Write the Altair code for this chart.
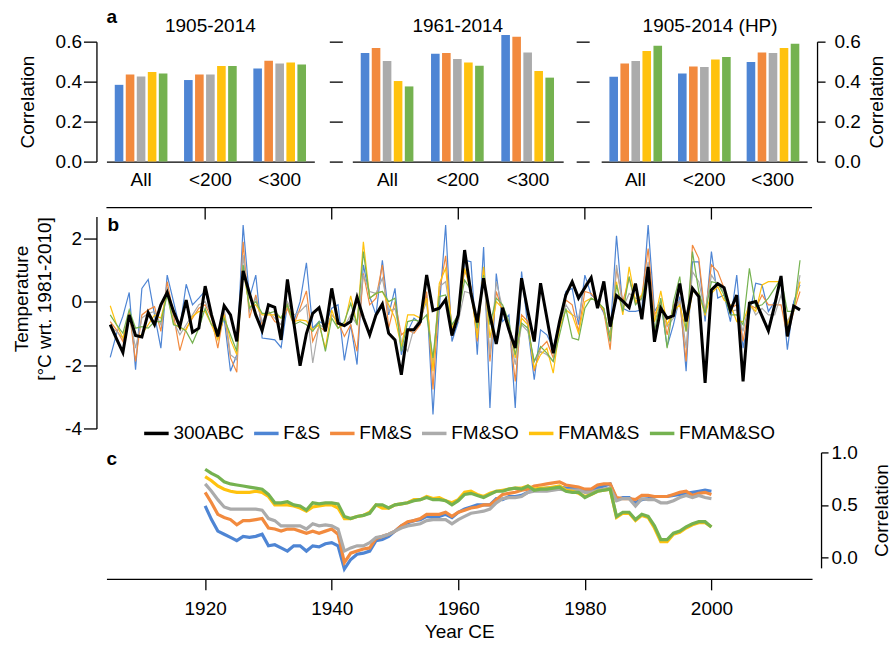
import altair as alt
import pandas as pd

FONT = "Liberation Sans"
GROUPS = ["All", "<200", "<300"]
SERIES = ["F&S", "FM&S", "FM&SO", "FMAM&S", "FMAM&SO"]
COLORS = ["#4E85D4", "#F28A3E", "#ABABAB", "#FFC20E", "#75B250"]
ALL_SERIES = ["300ABC"] + SERIES
ALL_COLORS = ["#000000"] + COLORS

# ---- panel a : correlations (rows = All, <200, <300 ; cols = series)
BARS_1905_2014 = [[0.384, 0.436, 0.426, 0.448, 0.441],
                  [0.408, 0.436, 0.436, 0.478, 0.478],
                  [0.466, 0.505, 0.491, 0.496, 0.486]]
BARS_1961_2014 = [[0.543, 0.568, 0.503, 0.403, 0.376],
                  [0.540, 0.543, 0.513, 0.496, 0.480],
                  [0.633, 0.625, 0.546, 0.453, 0.420]]
BARS_1905_2014_HP = [[0.425, 0.491, 0.503, 0.553, 0.580],
                     [0.441, 0.476, 0.473, 0.511, 0.523],
                     [0.498, 0.546, 0.543, 0.568, 0.590]]

# ---- panel b : temperature 1905-2014
YEARS_B = list(range(1905, 2015))
ABC300 = [-0.72, -1.17, -1.60, -0.41, -1.06,
          -1.11, -0.34, -0.72, -0.09, 0.30, -0.30, -0.78, 0.06, -0.96, -0.83,
          0.50, -0.41, -1.09, -0.12, -0.41, -1.25, 0.98, 0.27, -0.41, -0.91,
          -0.09, -0.17, -1.20, 0.71, -0.65, -2.02, -1.00, -0.36, -0.18, -0.93,
          0.43, -0.67, -0.75, -0.62, 0.15, -0.50, -1.04, -0.41, -0.07, -0.99,
          -1.20, -2.30, -0.88, -0.88, -0.62, 0.85, -0.27, -0.20, 0.08, -1.06,
          -0.41, 1.64, 0.27, -0.65, 0.75, -0.41, -1.33, -0.18, -0.88, -1.46,
          0.75, -0.30, -1.25, 0.59, -0.51, -1.62, -0.62, 0.22, 0.64, 0.12,
          0.45, 0.77, -0.20, 0.65, -0.78, 0.20, 0.03, -0.18, 0.58, -0.55,
          1.11, -1.26, -0.20, -0.51, -0.43, 0.58, -0.62, 0.43, 0.17, -2.56,
          0.38, 0.58, 0.45, -0.27, 0.22, -2.51, -0.04, 0.01, -0.45, -0.91,
          -0.10, 0.82, -1.09, -0.13, -0.25]
T_FS = [-1.75, -1.00, -0.45, 0.30, -2.14,
        0.43, 0.71, -0.41, -1.46, 0.85, 0.01, -0.83, 0.56, -0.09, 0.12,
        0.35, -0.41, -1.14, -0.51, -2.19, -1.67, 2.43, 0.12, 0.85, -1.14,
        -1.17, -1.20, -1.44, -0.09, -0.62, 0.01, 1.24, -0.83, -0.62, -0.72,
        -0.20, -0.09, -1.85, -0.72, -1.98, 1.17, 0.17, -0.41, 1.32, -0.41,
        0.43, -1.67, -0.93, -0.51, -0.67, 0.22, -3.56, -0.20, 2.43, -1.25,
        -0.62, 1.32, 1.27, -1.67, 1.74, -3.35, 0.90, -0.62, -0.41, -3.35,
        0.96, -0.83, -2.46, -0.88, -1.04, -1.46, -0.62, 0.33, 0.43, -0.72,
        0.85, 0.22, 0.05, -0.36, -1.04, 2.09, -0.20, -0.30, -0.30, -0.25,
        2.43, -0.30, 0.01, -1.41, -0.72, 0.17, -2.19, 1.27, 1.27, -0.62,
        1.59, 0.12, 0.22, -0.62, 0.85, -1.46, -0.41, 0.59, 0.54, -0.30,
        0.01, 0.64, -1.51, 0.01, 0.54]
T_FMS = [-0.62, -0.88, -1.25, -0.30, -1.88,
         -0.41, -0.25, -0.15, -0.93, 0.64, -0.41, -1.54, -0.83, -0.51, -0.20,
         -0.09, -0.51, -1.46, -0.30, -1.77, -2.22, 1.90, -0.51, 0.22, -0.72,
         -0.30, -0.62, -0.72, -0.20, -0.72, -0.20, 0.35, -1.25, -0.78, -0.93,
         -0.41, -0.62, -1.09, -0.72, -1.56, 0.90, -0.09, 0.12, 1.17, -0.83,
         0.01, -1.04, -0.88, -0.99, -0.72, 0.33, -2.77, 0.30, 1.46, -0.93,
         -0.41, 1.01, 0.48, -1.25, 1.06, -1.88, 0.33, -0.30, -0.72, -2.51,
         -0.41, -0.62, -2.19, -1.46, -1.25, -1.77, -0.72, 0.06, -0.09, -0.93,
         0.33, 0.27, 0.00, -0.30, -1.51, 1.06, 0.01, 0.75, -0.04, 0.17,
         1.69, -0.41, -0.04, -1.04, -0.09, 0.01, -1.88, 1.80, 1.38, -0.41,
         1.17, 0.96, 0.43, -0.20, -0.09, -1.25, -0.09, -0.20, 0.22, -0.09,
         -0.09, -0.09, -1.09, -0.30, 0.33]
T_FMSO = [-0.78, -0.93, -1.14, -0.41, -1.46,
          -0.51, -0.36, -0.30, -0.72, 0.48, -0.62, -1.04, -0.72, -0.41, -0.09,
          0.01, -0.41, -1.04, -0.20, -1.67, -1.83, 1.48, -0.30, 0.12, -0.62,
          -0.30, -0.51, -0.72, 0.01, -0.41, -0.30, -0.09, -1.93, -0.72, -0.83,
          -0.41, -0.62, -0.78, -0.41, -0.72, 0.85, 0.33, 0.27, 0.75, -0.30,
          -0.20, -1.25, -1.56, -0.83, -0.51, 0.01, -1.98, 0.48, 0.64, -0.72,
          -0.62, 0.33, 0.27, -0.93, 0.90, -1.67, 0.64, -0.20, -0.93, -1.98,
          -0.72, -0.93, -1.88, -1.56, -1.67, -1.88, -0.72, -0.09, -0.41, -0.51,
          0.54, 0.80, -0.05, -0.20, -1.25, 1.17, -0.20, 0.27, 0.12, 0.06,
          1.27, -0.62, -0.09, -0.78, -0.51, 0.06, -1.46, 0.96, 0.64, -0.30,
          0.85, 0.54, 0.33, -0.30, -0.25, -0.93, 0.01, -0.41, -0.20, -0.41,
          -0.41, 0.22, -0.62, -0.20, 0.85]
T_FMAMS = [-0.12, -0.72, -1.14, -0.51, -1.09,
           -1.04, -0.72, -0.41, -0.51, 0.27, -0.67, -0.83, -0.88, -0.46, -0.30,
           -0.30, -0.72, -1.20, -0.41, -1.20, -1.67, 1.01, -0.15, -0.09, -0.41,
           -0.41, -0.41, -0.51, -0.09, -0.62, -0.57, -0.60, -0.88, -0.72, -1.46,
           -0.25, -0.83, -0.72, 0.19, -0.72, 1.90, 0.12, 0.27, 0.33, -0.09,
           -0.51, -1.41, -0.41, -0.41, -0.51, 0.12, -2.19, 0.59, 1.06, -0.83,
           -0.41, 1.06, 0.33, -1.14, 1.11, -1.14, 0.01, -0.20, -0.72, -1.77,
           -0.51, -0.72, -2.09, -1.67, -1.46, -2.25, -0.83, -0.25, -0.41, -0.99,
           0.01, 0.12, 0.02, -0.25, -1.14, 0.64, -0.41, 1.11, 0.01, 0.22,
           0.85, -0.62, 0.35, -0.72, -0.30, -0.09, -0.93, 0.33, 0.27, -0.41,
           0.27, 0.48, 0.06, -0.09, -0.62, -0.62, -0.09, -0.30, 0.54, 0.64,
           0.64, 0.64, -0.72, -0.20, 0.64]
T_FMAMSO = [-0.41, -0.72, -0.99, -0.25, -0.83,
            -0.78, -0.83, -0.62, -0.62, 0.22, -0.72, -0.78, -0.93, -1.30, -0.83,
            -0.20, -0.72, -0.88, -0.51, -1.04, -1.56, 1.17, -0.20, 0.01, -0.36,
            -0.36, -0.30, -0.51, -0.09, -0.72, -0.62, -0.72, -0.93, -0.62, -1.56,
            -0.51, -0.83, -0.62, -0.04, -0.72, 1.59, 0.12, 0.27, 0.33, 0.01,
            0.12, -1.56, -0.62, -0.57, -0.62, -0.41, -1.77, 0.17, 0.22, -0.72,
            -0.41, 0.69, 0.38, -0.83, 0.85, -0.72, 0.12, -0.09, -0.62, -1.67,
            -0.67, -0.83, -1.88, -1.41, -1.62, -1.88, -1.04, -0.20, -1.14, -1.20,
            -0.20, 0.12, 0.01, -0.20, -1.25, 0.54, -0.30, 0.80, -0.09, 0.12,
            0.96, -0.93, 0.12, -1.46, 0.01, 0.80, -0.93, 1.59, 0.33, -0.36,
            0.64, 0.59, 0.22, -0.41, -0.41, -0.72, 1.06, -0.15, -0.09, 0.12,
            0.43, 0.75, -0.30, -0.30, 1.32]

# ---- panel c : running correlation 1920-2000
YEARS_C = list(range(1920, 2001))
C_FS = [0.49, 0.36, 0.25, 0.22, 0.19, 0.16, 0.20, 0.19, 0.20, 0.22,
        0.11, 0.12, 0.09, 0.06, 0.11, 0.11, 0.06, 0.11, 0.10, 0.13,
        0.14, 0.11, -0.11, -0.02, 0.03, 0.04, 0.06, 0.16, 0.17, 0.20,
        0.25, 0.30, 0.33, 0.35, 0.36, 0.39, 0.38, 0.39, 0.41, 0.38,
        0.43, 0.46, 0.48, 0.50, 0.50, 0.50, 0.56,
        0.55, 0.58, 0.58, 0.59, 0.62, 0.64, 0.65, 0.66, 0.66, 0.67,
        0.66, 0.66, 0.65, 0.63, 0.64, 0.66, 0.68, 0.70, 0.55, 0.57,
        0.57, 0.52, 0.55, 0.56, 0.58, 0.58, 0.58, 0.59, 0.60, 0.61,
        0.62, 0.63, 0.64, 0.63]
C_FMS = [0.62, 0.52, 0.41, 0.38, 0.36, 0.31, 0.35, 0.35, 0.36, 0.37,
         0.28, 0.27, 0.25, 0.27, 0.27, 0.25, 0.23, 0.25, 0.23, 0.25,
         0.27, 0.22, -0.05, 0.04, 0.06, 0.08, 0.09, 0.18, 0.20, 0.22,
         0.25, 0.30, 0.34, 0.35, 0.37, 0.41, 0.41, 0.41, 0.43, 0.39,
         0.43, 0.45, 0.47, 0.48, 0.50, 0.50, 0.55,
         0.60, 0.61, 0.62, 0.64, 0.65, 0.68, 0.69, 0.70, 0.71, 0.72,
         0.69, 0.68, 0.67, 0.65, 0.65, 0.69, 0.70, 0.70, 0.57, 0.56,
         0.56, 0.55, 0.59, 0.59, 0.58, 0.58, 0.58, 0.60, 0.62, 0.63,
         0.59, 0.61, 0.62, 0.60]
C_FMSO = [0.70, 0.63, 0.55, 0.48, 0.46, 0.46, 0.46, 0.46, 0.46, 0.45,
          0.37, 0.35, 0.30, 0.30, 0.30, 0.30, 0.27, 0.32, 0.30, 0.31,
          0.30, 0.27, 0.06, 0.09, 0.11, 0.11, 0.14, 0.19, 0.20, 0.22,
          0.25, 0.28, 0.30, 0.31, 0.32, 0.35, 0.36, 0.36, 0.36, 0.32,
          0.36, 0.39, 0.42, 0.43, 0.44, 0.46, 0.52,
          0.56, 0.57, 0.57, 0.58, 0.62, 0.63, 0.63, 0.63, 0.64, 0.65,
          0.64, 0.64, 0.64, 0.62, 0.62, 0.64, 0.65, 0.66, 0.54, 0.56,
          0.56, 0.49, 0.56, 0.55, 0.55, 0.52, 0.52, 0.54, 0.57, 0.59,
          0.57, 0.59, 0.57, 0.56]
C_FMAMS = [0.77, 0.73, 0.68, 0.65, 0.63, 0.62, 0.62, 0.62, 0.63, 0.62,
           0.58, 0.50, 0.50, 0.50, 0.49, 0.47, 0.44, 0.48, 0.49, 0.50,
           0.50, 0.47, 0.37, 0.37, 0.39, 0.40, 0.43, 0.50, 0.47, 0.47,
           0.50, 0.51, 0.52, 0.55, 0.55, 0.58, 0.56, 0.57, 0.54, 0.52,
           0.55, 0.62, 0.63, 0.60, 0.58, 0.61, 0.63,
           0.64, 0.65, 0.66, 0.66, 0.68, 0.65, 0.66, 0.66, 0.67, 0.68,
           0.64, 0.63, 0.61, 0.58, 0.60, 0.63, 0.64, 0.65, 0.38, 0.42,
           0.42, 0.35, 0.40, 0.38, 0.28, 0.15, 0.15, 0.22, 0.24, 0.28,
           0.31, 0.33, 0.33, 0.29]
C_FMAMSO = [0.84, 0.80, 0.77, 0.72, 0.70, 0.69, 0.68, 0.67, 0.66, 0.65,
            0.60, 0.52, 0.52, 0.53, 0.50, 0.49, 0.45, 0.52, 0.51, 0.52,
            0.52, 0.51, 0.39, 0.37, 0.39, 0.40, 0.42, 0.50, 0.50, 0.47,
            0.50, 0.51, 0.52, 0.54, 0.55, 0.57, 0.55, 0.55, 0.54, 0.50,
            0.54, 0.60, 0.61, 0.59, 0.57, 0.60, 0.63,
            0.63, 0.65, 0.66, 0.65, 0.68, 0.64, 0.65, 0.65, 0.66, 0.67,
            0.63, 0.62, 0.62, 0.57, 0.60, 0.63, 0.64, 0.65, 0.39, 0.43,
            0.43, 0.36, 0.41, 0.39, 0.30, 0.17, 0.17, 0.23, 0.25, 0.29,
            0.32, 0.34, 0.34, 0.29]

TICK_YEARS = [1920, 1940, 1960, 1980, 2000]

for name, arr, n in [("ABC300", ABC300, 110), ("T_FS", T_FS, 110), ("T_FMS", T_FMS, 110),
                     ("T_FMSO", T_FMSO, 110), ("T_FMAMS", T_FMAMS, 110), ("T_FMAMSO", T_FMAMSO, 110),
                     ("C_FS", C_FS, 81), ("C_FMS", C_FMS, 81), ("C_FMSO", C_FMSO, 81),
                     ("C_FMAMS", C_FMAMS, 81), ("C_FMAMSO", C_FMAMSO, 81)]:
    if len(arr) != n:
        raise ValueError(f"{name} has {len(arr)} values, expected {n}")

XDOM = [1904.4, 2015.9]
W_BC = 706


def label(text, x, y, size=19, bold=True, align="left"):
    return alt.Chart(pd.DataFrame({"t": [text]})).mark_text(
        font=FONT, fontSize=size, fontWeight="bold" if bold else "normal",
        align=align, baseline="alphabetic", color="black"
    ).encode(text="t:N", x=alt.value(x), y=alt.value(y))


def anchor(y1, y2):
    # invisible layout anchor (keeps rows aligned)
    return alt.Chart(pd.DataFrame({"k": [0]})).mark_rule(opacity=0, strokeWidth=1).encode(
        x=alt.value(-101), y=alt.value(y1), y2=alt.value(y2))


TICK_VALS = [0, 0.2, 0.4, 0.6]


def bar_panel(vals, title, width, left_axis, right_axis=None, tag=None, title_dx=0, extra=None):
    rows = []
    for gi, g in enumerate(GROUPS):
        for si, s in enumerate(SERIES):
            rows.append({"group": g, "series": s, "value": vals[gi][si]})
    df = pd.DataFrame(rows)
    yscale = alt.Scale(domain=[0, 0.6], nice=False, zero=True)
    xenc = alt.X("group:N", sort=GROUPS,
                 scale=alt.Scale(paddingInner=0.24, paddingOuter=0.12),
                 axis=alt.Axis(title=None, labelAngle=0, ticks=False, labelPadding=9))
    xoff = alt.XOffset("series:N", sort=SERIES, scale=alt.Scale(paddingInner=0.22))
    layers = [alt.Chart(df).mark_bar().encode(
        x=xenc, xOffset=xoff,
        y=alt.Y("value:Q", scale=yscale, axis=left_axis),
        color=alt.Color("series:N", scale=alt.Scale(domain=SERIES, range=COLORS), legend=None),
    )]
    if right_axis is not None:
        layers.append(alt.Chart(df).mark_bar(opacity=0).encode(
            x=xenc, xOffset=xoff,
            y=alt.Y("value:Q", scale=yscale, axis=right_axis)))
    layers.append(label(title, width / 2 + title_dx, -10, bold=False, align="center"))
    if tag:
        layers.append(label(tag, 0, -19))
    if extra is not None:
        layers.append(extra)
    ch = alt.layer(*layers).properties(width=width, height=120)
    if right_axis is not None:
        ch = ch.resolve_axis(y="independent")
    return ch


ax_left_full = alt.Axis(title="Correlation", values=TICK_VALS, format=".1f", offset=10,
                        tickSize=13, labelPadding=2, titlePadding=18)


def ax_ticks_only(off):
    return alt.Axis(title=None, values=TICK_VALS, labels=False, domain=False, offset=off, tickSize=13)


ax_right = alt.Axis(orient="right", title="Correlation", values=TICK_VALS, format=".1f", offset=10,
                    tickSize=8, labelPadding=9, titlePadding=7, titleAngle=270, titleBaseline="top")

pa1 = bar_panel(BARS_1905_2014, "1905-2014", 208, ax_left_full, tag="a", extra=anchor(-40, 155))
pa2 = bar_panel(BARS_1961_2014, "1961-2014", 211, ax_ticks_only(10))
pa3 = bar_panel(BARS_1905_2014_HP, "1905-2014 (HP)", 206, ax_ticks_only(12), ax_right, title_dx=6)

top = alt.hconcat(pa1, pa2, pa3, spacing=38, bounds="flush").resolve_scale(color="independent")

# ---- panel b
names_b = ["F&S", "FM&S", "FM&SO", "FMAM&S", "FMAM&SO"]
arrs_b = [T_FS, T_FMS, T_FMSO, T_FMAMS, T_FMAMSO]
rows = []
for nm, arr in zip(names_b, arrs_b):
    for yr, v in zip(YEARS_B, arr):
        rows.append({"year": yr, "temp": v, "series": nm})
dfb = pd.DataFrame(rows)
dfk = pd.DataFrame({"year": YEARS_B, "temp": ABC300, "series": ["300ABC"] * len(YEARS_B)})

xb = alt.X("year:Q", scale=alt.Scale(domain=XDOM, nice=False, zero=False), axis=None)
yb_axis = alt.Axis(title=["Temperature", "[°C wrt. 1981-2010]"], values=[-4, -2, 0, 2],
                   labelExpr="'' + datum.value", offset=10, tickSize=13, labelPadding=2,
                   titlePadding=10, titleY=82, titleLineHeight=23)
yb = alt.Y("temp:Q", scale=alt.Scale(domain=[-4, 2.7], nice=False, zero=False), axis=yb_axis)
legend_b = alt.Legend(orient="none", legendX=36, legendY=203, direction="horizontal", columns=6,
                      title=None, symbolType="stroke", symbolStrokeWidth=3.5, symbolSize=600,
                      labelFontSize=19, labelOffset=3, columnPadding=2, padding=0)
color_b = alt.Color("series:N", scale=alt.Scale(domain=ALL_SERIES, range=ALL_COLORS), legend=legend_b)

lines_b = alt.Chart(dfb).mark_line(strokeWidth=1.2).encode(x=xb, y=yb, color=color_b)
black_b = alt.Chart(dfk).mark_line(strokeWidth=3).encode(x=xb, y=yb, color=color_b)
top_line = alt.Chart(pd.DataFrame({"k": [0]})).mark_rule(color="black", strokeWidth=1.3).encode(
    x=alt.value(0), x2=alt.value(W_BC), y=alt.value(-9))
top_ticks = alt.Chart(pd.DataFrame({"year": TICK_YEARS})).mark_rule(color="black", strokeWidth=1.3).encode(
    x=alt.X("year:Q", scale=alt.Scale(domain=XDOM, nice=False, zero=False), axis=None),
    y=alt.value(-9), y2=alt.value(3))
pb = alt.layer(lines_b, black_b, top_line, top_ticks, label("b", 1, 14), anchor(-15, 0)).properties(
    width=W_BC, height=212)

# ---- panel c
names_c = ["F&S", "FM&S", "FM&SO", "FMAM&S", "FMAM&SO"]
arrs_c = [C_FS, C_FMS, C_FMSO, C_FMAMS, C_FMAMSO]
rows = []
for nm, arr in zip(names_c, arrs_c):
    for yr, v in zip(YEARS_C, arr):
        rows.append({"year": yr, "corr": v, "series": nm})
dfc = pd.DataFrame(rows)
xc = alt.X("year:Q", scale=alt.Scale(domain=XDOM, nice=False, zero=False),
           axis=alt.Axis(values=TICK_YEARS, format="d", title="Year CE", offset=11, tickSize=11,
                         labelPadding=10, titlePadding=4))
yc = alt.Y("corr:Q", scale=alt.Scale(domain=[-0.1, 1.0], nice=False, zero=False),
           axis=alt.Axis(orient="right", values=[0, 0.5, 1.0], format=".1f", offset=9, tickSize=7,
                         labelPadding=3, title="Correlation", titleAngle=270, titleBaseline="top",
                         titlePadding=15))
lines_c = alt.Chart(dfc).mark_line(strokeWidth=3.2).encode(
    x=xc, y=yc,
    color=alt.Color("series:N", scale=alt.Scale(domain=ALL_SERIES, range=ALL_COLORS), legend=None))
pc = alt.layer(lines_c, label("c", 0, 13)).properties(width=W_BC, height=115.5)

bottom = alt.vconcat(pb, pc, spacing=24, bounds="flush").resolve_scale(color="independent")

chart = alt.vconcat(top, bottom, spacing=5, bounds="full").resolve_scale(
    color="independent"
).properties(
    padding={"left": 5.5, "top": 1.5, "right": 0, "bottom": 0},
    background="white",
).configure(font=FONT).configure_view(stroke=None).configure_axis(
    labelFont=FONT, titleFont=FONT, labelFontSize=19, titleFontSize=19, titleFontWeight="normal",
    labelColor="black", titleColor="black", domainColor="black", tickColor="black",
    grid=False, domainWidth=1.3, tickWidth=1.3
).configure_legend(labelFont=FONT, labelFontSize=19, labelColor="black")

chart.save("out.html", embed_options={"renderer": "svg", "actions": False})
